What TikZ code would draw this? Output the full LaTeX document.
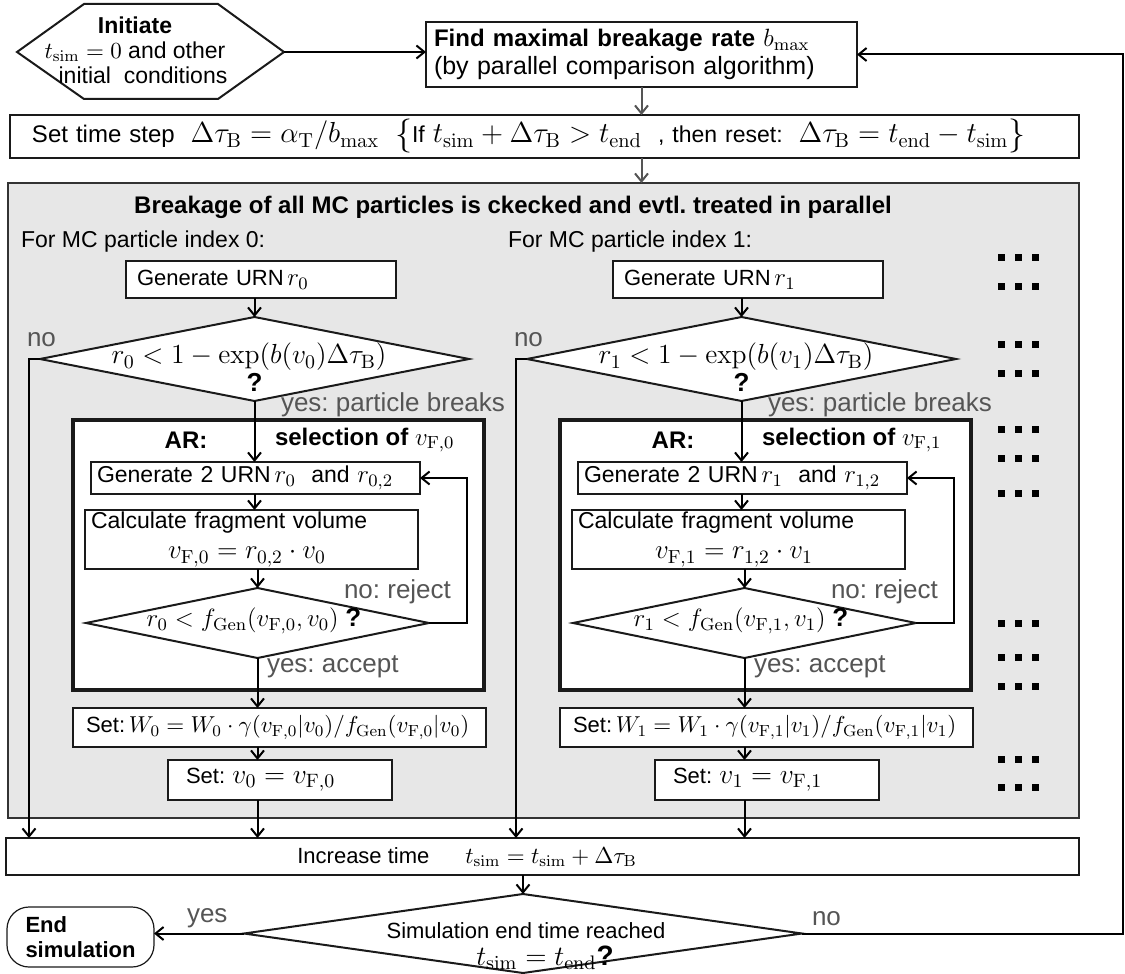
\RequirePackage{fix-cm}
\documentclass[tikz,border=0pt]{standalone}
\usepackage[no-math]{fontspec}
\setmainfont{Liberation Sans}
\usetikzlibrary{arrows.meta,shapes.geometric}
\newcommand{\setfs}[2]{\fontsize{#1}{#2}\selectfont}
% formula set at its own size, kept on one line
\newcommand{\mth}[2]{\mbox{\fontsize{#1}{13}\selectfont$#2$}}
\definecolor{boxline}{HTML}{1A1A1A}
\definecolor{grayline}{HTML}{333333}
\definecolor{panel}{HTML}{E7E7E7}
\definecolor{lblgray}{HTML}{555555}
\definecolor{arrgray}{HTML}{555555}
\begin{document}
\frenchspacing
\begin{tikzpicture}[x=0.5pt,y=-0.5pt,
  every node/.style={inner sep=0pt, outer sep=0pt},
  box/.style={draw=boxline, line width=1pt, fill=white, align=center},
  dec/.style={draw=boxline, line width=1pt, fill=white, shape=diamond, inner sep=0pt},
  arr/.style={draw=black, line width=1pt, -{Straight Barb[length=4pt,width=6.5pt]}},
  garr/.style={arr, draw=arrgray},
  lbl/.style={text=lblgray, font=\setfs{13}{15}}]
\useasboundingbox (0,0) rectangle (1125,974);

% start hexagon
\draw[line width=1pt, draw=boxline, fill=white]
  (17,52) -- (84,4) -- (218,4) -- (284,52) -- (218,99) -- (84,99) -- cycle;
\coordinate (initR) at (284,52);
\node[align=center, font=\setfs{11.5}{12.5}] (inittext) at (135,50)
  {\textbf{Initiate}\\\mth{11.5}{t_{\mathrm{sim}}=0}\ and other\\\hspace*{8pt}initial\ \ conditions};

% maximal breakage rate
\node[box, minimum width=215.5pt, minimum height=32.5pt, text width=207.5pt, inner xsep=4pt, align=left,
  font=\setfs{12.5}{14}] (find) at (641.5,54.5)
  {{\bfseries\setfs{12}{14}Find maximal breakage rate} \mth{12.5}{b_{\max}}\\(by parallel comparison algorithm)};
\draw[arr] (initR) -- (initR -| find.west);

% time step
\node[box, minimum width=534.5pt, minimum height=21.5pt, text width=512.5pt, inner xsep=11pt, align=left,
  font=\setfs{12}{14}] (setdt) at (544.5,136.5)
  {Set time step\ \ \mth{14.5}{\Delta\tau_{\mathrm{B}}=\alpha_{\mathrm{T}}/b_{\max}}\ \ \raisebox{-1pt}{\mth{17}{\{}}{\setfs{11.5}{13}If }\mth{14.5}{t_{\mathrm{sim}}+\Delta\tau_{\mathrm{B}}>t_{\mathrm{end}}}\ \ {\setfs{11.5}{13}, then reset:}\ \ \mth{14.5}{\Delta\tau_{\mathrm{B}}=t_{\mathrm{end}}-t_{\mathrm{sim}}}\raisebox{-1pt}{\mth{17}{\}}}};
\draw[garr] (find.south) -- (find.south |- setdt.north);

% parallel panel
\node[draw=grayline, line width=1pt, fill=panel, minimum width=535.5pt, minimum height=317.5pt] (gray) at (543.5,500.5) {};
\draw[garr] (find.south |- setdt.south) -- (find.south |- gray.north);
\node[font=\bfseries\setfs{12}{14}] (title) at (513,207)
  {Breakage of all MC particles is ckecked and evtl. treated in parallel};

% time increment and end test
\node[box, minimum width=536.5pt, minimum height=18.5pt] (inc) at (542.5,856.5) {};
\node[font=\setfs{11}{13}] (inctext) at (467,857)
  {Increase time\hspace{18pt}\mth{11.5}{t_{\mathrm{sim}}=t_{\mathrm{sim}}+\Delta\tau_{\mathrm{B}}}};
\node[dec, minimum width=279pt, minimum height=39.5pt] (enddia) at (523,933.5) {};
\node[font=\setfs{11}{13}] (endq) at (526,931) {Simulation end time reached};
\node[anchor=base] (endqf) at (545,965)
  {\mth{14}{t_{\mathrm{sim}}=t_{\mathrm{end}}}{\bfseries\setfs{14}{14}?}};
\draw[arr] (enddia.north |- inc.south) -- (enddia.north);

\node[draw=boxline, line width=0.6pt, rounded corners=11pt, fill=white, minimum width=73.5pt,
  minimum height=30pt, text width=55pt, inner xsep=9.25pt, align=left,
  font=\bfseries\setfs{11}{12.5}] (endsim) at (80.5,937) {End\\simulation};
\draw[arr] (enddia.west) -- (enddia.west -| endsim.east);
\node[lbl, anchor=west] (yeslbl) at (187,918) {yes};

\coordinate (fbR) at (1123,54.5);
\draw[arr] (enddia.east) -- (fbR |- enddia.east) -- (fbR) -- (find.east);
\node[lbl, anchor=west] (nolbl) at (812,919) {no};

% one column per MC particle
\foreach \col/\dx in {0/0,1/487}{
\begin{scope}[shift={(\dx,0)}]
  \node[anchor=west, font=\setfs{11.5}{13}] (for\col) at (21,242) {For MC particle index \col:};
  \node[box, minimum width=135pt, minimum height=18.5pt, text width=124pt, inner xsep=5.5pt, align=left,
    font=\setfs{11}{13}] (gen\col) at (261,279.5) {Generate URN\,\mth{12.5}{r_{\col}}};
  \node[dec, minimum width=214.5pt, minimum height=42pt] (dia\col) at (254.5,359) {};
  \node (diaf\col) at (249,357) {\mth{13.8}{r_{\col}<1-\exp(b(v_{\col})\Delta\tau_{\mathrm{B}})}};
  \node[font=\bfseries\setfs{13}{14}] (diaq\col) at (254.5,382) {?};
  \draw[arr] (dia\col.north |- gen\col.south) -- (dia\col.north);
  \node[lbl, anchor=west] (no\col) at (27,340) {no};
  \coordinate (nox\col) at (29,359);
  \draw[arr] (dia\col.west) -- (nox\col) -- (nox\col |- inc.north);

  % acceptance-rejection block
  \node[draw=boxline, line width=1.6pt, fill=white, minimum width=205.5pt, minimum height=135pt] (ar\col) at (278.5,555) {};
  \node[lbl, anchor=west] (yb\col) at (281,405) {yes: particle breaks};
  \node[font=\bfseries\setfs{12}{14}] (art\col) at (186,440) {AR:};
  \node[anchor=west, font=\bfseries\setfs{12}{14}] (sel\col) at (275,440) {selection of \mth{12.5}{v_{\mathrm{F},\col}}};
  \node[box, minimum width=164.5pt, minimum height=16pt, text width=158.5pt, inner xsep=3pt, align=left,
    font=\setfs{11.5}{13}] (gentwo\col) at (255.5,478)
    {Generate 2 URN\,\mth{12.5}{r_{\col}}\ \ and \mth{12.5}{r_{\col,2}}};
  \node[box, minimum width=166.5pt, minimum height=29.5pt, text width=160.5pt, inner xsep=3pt, align=left,
    font=\setfs{11.5}{15}] (calc\col) at (251.5,539.5)
    {Calculate fragment volume\\\hspace*{38.5pt}\mth{13.5}{v_{\mathrm{F},\col}=r_{\col,2}\cdot v_{\col}}};
  \node[dec, minimum width=171.5pt, minimum height=35pt] (diatwo\col) at (257.5,623) {};
  \node[font=\setfs{12}{14}] (diatwof\col) at (254,621)
    {\mth{12.5}{r_{\col}<f_{\mathrm{Gen}}(v_{\mathrm{F},\col},v_{\col})}\ {\bfseries\setfs{13}{14}?}};
  \node[lbl, anchor=west] (rej\col) at (344,592) {no: reject};
  \node[lbl, anchor=west] (acc\col) at (267,667) {yes: accept};
  \coordinate (lp\col) at (467,550);
  \draw[arr] (diatwo\col.east) -| (lp\col) |- (gentwo\col.east);

  \node[box, minimum width=206.5pt, minimum height=19.5pt, text width=193.5pt, inner xsep=6.5pt, align=left,
    font=\setfs{11}{13}] (setw\col) at (279.5,727.5)
    {Set:\,\mth{11.5}{W_{\col}=W_{\col}\cdot\gamma(v_{\mathrm{F},\col}|v_{\col})/f_{\mathrm{Gen}}(v_{\mathrm{F},\col}|v_{\col})}};
  \node[box, minimum width=112pt, minimum height=20pt, text width=94pt, inner xsep=9pt, align=left,
    font=\setfs{11}{13}] (setv\col) at (280,780) {Set:\ \mth{13.8}{v_{\col}=v_{\mathrm{F},\col}}};

  \draw[arr] (dia\col.south) -- (dia\col.south |- gentwo\col.north);
  \draw[arr] (dia\col.south |- gentwo\col.south) -- (dia\col.south |- calc\col.north);
  \draw[arr] (diatwo\col.north |- calc\col.south) -- (diatwo\col.north);
  \draw[arr] (diatwo\col.south) -- (diatwo\col.south |- setw\col.north);
  \draw[arr] (diatwo\col.south |- setw\col.south) -- (diatwo\col.south |- setv\col.north);
  \draw[arr] (diatwo\col.south |- setv\col.south) -- (diatwo\col.south |- inc.north);
\end{scope}}

% further particles
\foreach \yy in {257,286,344,373,429,458,493,623,657,686,759,787}
  \foreach \xx in {1001,1018,1035}
    \fill (\xx-3.5,\yy-3.5) rectangle (\xx+3.5,\yy+3.5);
\end{tikzpicture}
\end{document}
